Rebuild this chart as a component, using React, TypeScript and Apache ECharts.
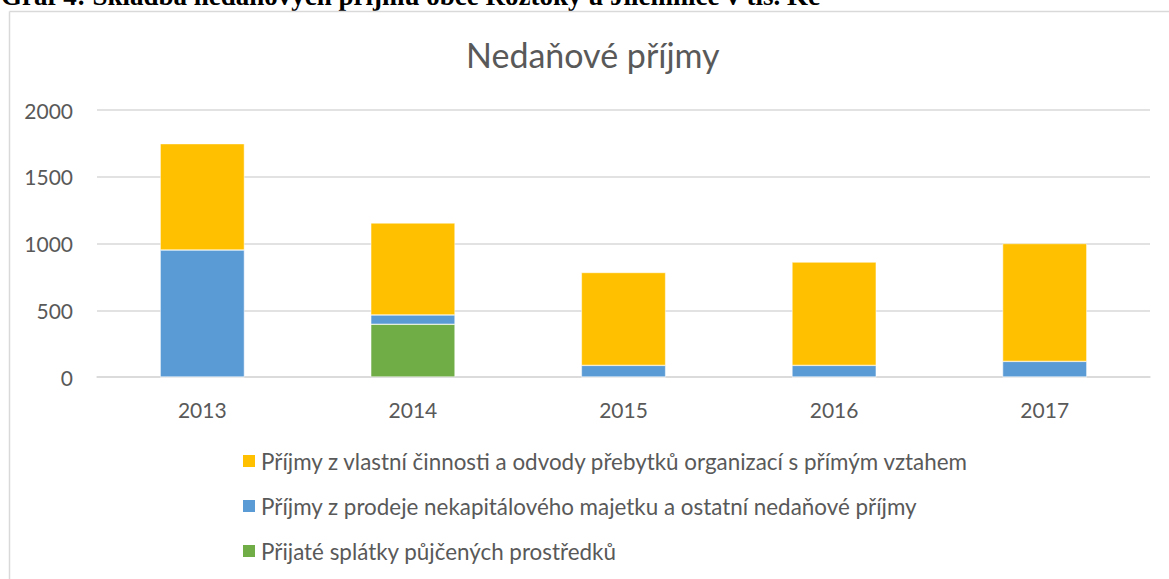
import React, { useEffect, useRef } from "react";
import * as echarts from "echarts";

const categories = ["2013", "2014", "2015", "2016", "2017"];
const seriesNames = [
  "Příjmy z vlastní činnosti a odvody přebytků organizací s přímým vztahem",
  "Příjmy z prodeje nekapitálového majetku a ostatní nedaňové příjmy",
  "Přijaté splátky půjčených prostředků",
];
const ownActivity = [797, 689, 696, 774, 883];
const assetSales = [951, 70, 87, 87, 117];
const loanRepayments = [0, 395, 0, 0, 0];
const yTicks = { min: 0, max: 2000, interval: 500 };
const docTitle = "Graf 4: Skladba nedaňových příjmů obce Roztoky u Jilemnice v tis. Kč";
const chartTitle = "Nedaňové příjmy";

const FONT = "Lato, 'Open Sans', sans-serif";
const TEXT = "#595959";

export default function App() {
  const ref = useRef<HTMLDivElement>(null);
  useEffect(() => {
    if (!ref.current) return;
    const chart = echarts.init(ref.current, undefined, { renderer: "svg" });
    chart.setOption({
      animation: false,
      backgroundColor: "#fff",
      title: {
        text: chartTitle,
        left: 466,
        top: 37,
        padding: 0,
        textStyle: { color: TEXT, fontFamily: FONT, fontWeight: "normal", fontSize: 34 },
      },
      graphic: [
        {
          type: "text",
          x: 1,
          y: -4.5,
          style: {
            text: docTitle,
            font: "bold 27px 'Liberation Serif', 'Times New Roman', serif",
            fill: "#000",
            verticalAlign: "middle",
          },
        },
        {
          type: "line",
          shape: { x1: 9.5, y1: 11.5, x2: 1169, y2: 11.5 },
          style: { stroke: "#d9d9d9", lineWidth: 1.5 },
        },
        {
          type: "line",
          shape: { x1: 9.5, y1: 11.5, x2: 9.5, y2: 579 },
          style: { stroke: "#d9d9d9", lineWidth: 1.5 },
        },
      ],
      legend: {
        orient: "vertical",
        left: 236,
        top: 444,
        itemWidth: 14,
        itemHeight: 14,
        itemGap: 21,
        icon: "rect",
        data: seriesNames,
        textStyle: { color: TEXT, fontFamily: FONT, fontSize: 22.4, lineHeight: 24 },
      },
      grid: { left: 97, right: 19, top: 110, bottom: 202, containLabel: false },
      xAxis: {
        type: "category",
        data: categories,
        axisTick: { show: false },
        axisLine: { lineStyle: { color: "#d9d9d9", width: 1.5 } },
        axisLabel: { color: TEXT, fontFamily: FONT, fontSize: 21, margin: 22 },
      },
      yAxis: {
        type: "value",
        min: yTicks.min,
        max: yTicks.max,
        interval: yTicks.interval,
        axisLine: { show: false },
        axisTick: { show: false },
        splitLine: { lineStyle: { color: "#d9d9d9", width: 1.5 } },
        axisLabel: {
          color: TEXT,
          fontFamily: FONT,
          fontSize: 21,
          margin: 24,
          formatter: (v: number) => String(v),
        },
      },
      series: [
        {
          name: seriesNames[2],
          type: "bar",
          stack: "total",
          data: loanRepayments,
          barWidth: "40%",
          itemStyle: { color: "#70AD47", borderColor: "#fff", borderWidth: 0.5 },
        },
        {
          name: seriesNames[1],
          type: "bar",
          stack: "total",
          data: assetSales,
          barWidth: "40%",
          itemStyle: { color: "#5B9BD5", borderColor: "#fff", borderWidth: 0.5 },
        },
        {
          name: seriesNames[0],
          type: "bar",
          stack: "total",
          data: ownActivity,
          barWidth: "40%",
          itemStyle: { color: "#FFC000", borderColor: "#fff", borderWidth: 0.5 },
        },
      ],
    });
    return () => chart.dispose();
  }, []);
  return (
    <div
      ref={ref}
      style={{ position: "fixed", left: 0, top: 0, width: 1169, height: 579 }}
    />
  );
}
